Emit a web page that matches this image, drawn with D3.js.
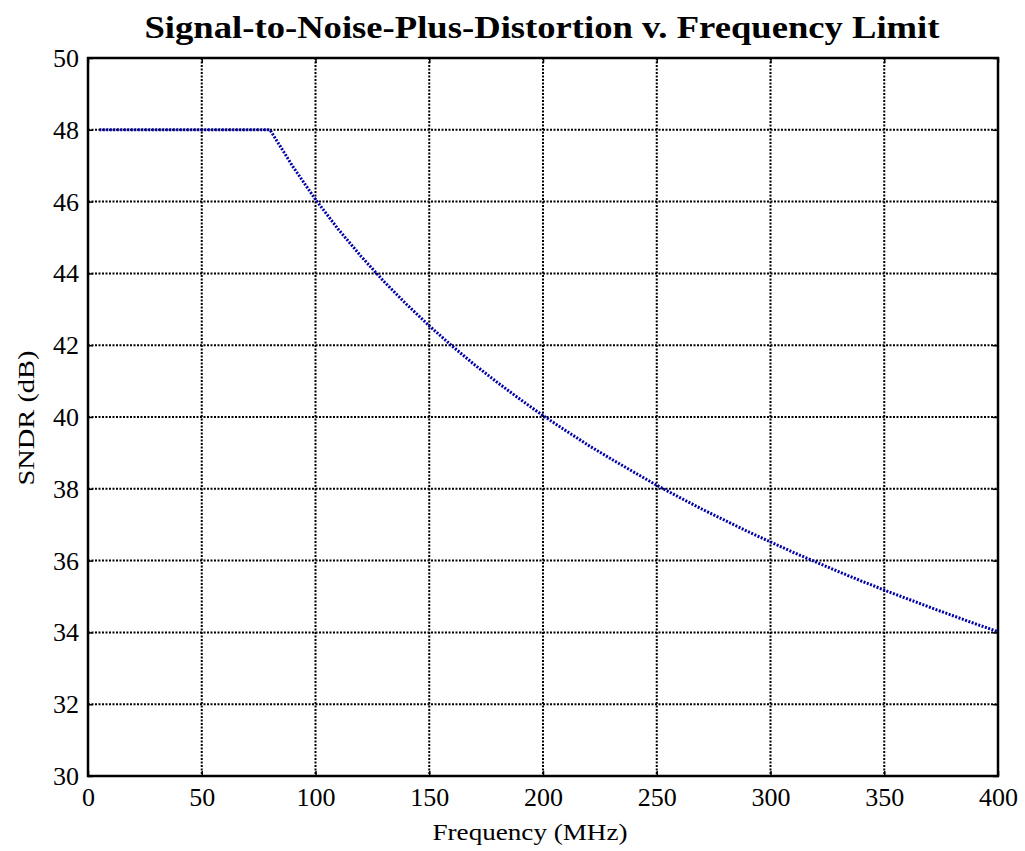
<!DOCTYPE html>
<html>
<head>
<meta charset="utf-8">
<script src="https://cdn.jsdelivr.net/npm/d3@7"></script>
<style>
  body { margin: 0; background: #fff; }
  svg text { font-family: "Liberation Serif", "Times New Roman", serif; }
</style>
</head>
<body>
<div id="vis-container"></div>
<script>
// data
var freqMHz = [5, 80, 90, 100, 110, 120, 130, 140, 150, 160, 170, 180, 190, 200,
               210, 220, 230, 240, 250, 260, 270, 280, 290, 300, 310, 320, 330,
               340, 350, 360, 370, 380, 390, 400]
var sndrDb = [48, 48, 46.98, 46.06, 45.23, 44.48, 43.78, 43.14, 42.54, 41.98, 41.45,
              40.96, 40.49, 40.04, 39.62, 39.21, 38.83, 38.46, 38.10, 37.76, 37.43,
              37.12, 36.81, 36.52, 36.23, 35.96, 35.69, 35.43, 35.18, 34.94, 34.70,
              34.47, 34.24, 34.02]
var xTicks = [0, 50, 100, 150, 200, 250, 300, 350, 400]
var yTicks = [30, 32, 34, 36, 38, 40, 42, 44, 46, 48, 50]

var data = freqMHz.map(function (f, i) { return { f: f, v: sndrDb[i] } })

var W = 1025, H = 851
var margin = { top: 58, right: 27, bottom: 75, left: 88 }
var w = W - margin.left - margin.right
var h = H - margin.top - margin.bottom
var serif = '"Liberation Serif", "Times New Roman", serif'

var svg = d3.select('#vis-container').append('svg')
    .attr('width', W)
    .attr('height', H)

var g = svg.append('g')
    .attr('transform', 'translate(' + margin.left + ',' + margin.top + ')')

var xScale = d3.scaleLinear().domain([0, 400]).range([0, w])
var yScale = d3.scaleLinear().domain([30, 50]).range([h, 0])

// grid
g.selectAll('.vgrid')
    .data(xTicks.slice(1, -1))
    .enter().append('line')
    .attr('x1', function (d) { return xScale(d) })
    .attr('x2', function (d) { return xScale(d) })
    .attr('y1', 0).attr('y2', h)
    .attr('stroke', '#000').attr('stroke-width', 2)
    .attr('stroke-dasharray', '2,1.5')
g.selectAll('.hgrid')
    .data(yTicks.slice(1, -1))
    .enter().append('line')
    .attr('y1', function (d) { return yScale(d) })
    .attr('y2', function (d) { return yScale(d) })
    .attr('x1', 0).attr('x2', w)
    .attr('stroke', '#000').attr('stroke-width', 2)
    .attr('stroke-dasharray', '2,1.5')

// axes with inward ticks
var xAxis = d3.axisBottom(xScale).tickValues(xTicks).tickSizeInner(-5).tickSizeOuter(0).tickPadding(12)
var yAxis = d3.axisLeft(yScale).tickValues(yTicks).tickSizeInner(-5).tickSizeOuter(0).tickPadding(9)

var gx = g.append('g').attr('transform', 'translate(0,' + h + ')').call(xAxis)
var gy = g.append('g').call(yAxis)
g.append('g').call(d3.axisTop(xScale).tickValues(xTicks).tickSizeInner(-5).tickSizeOuter(0).tickFormat(''))
g.append('g').attr('transform', 'translate(' + w + ',0)')
  .call(d3.axisRight(yScale).tickValues(yTicks).tickSizeInner(-5).tickSizeOuter(0).tickFormat(''))

g.selectAll('.domain').attr('stroke', 'none')
g.selectAll('.tick line').attr('stroke', '#000').attr('stroke-width', 1.5)
gx.selectAll('text').style('font-size', '26px').style('font-family', serif).attr('fill', '#000')
gy.selectAll('text').style('font-size', '26px').style('font-family', serif).attr('fill', '#000').attr('dy', '0.33em')

// frame
g.append('rect')
    .attr('x', 0).attr('y', 0).attr('width', w).attr('height', h)
    .attr('fill', 'none').attr('stroke', '#000').attr('stroke-width', 2.5)

// curve
var line = d3.line()
    .x(function (d) { return xScale(d.f) })
    .y(function (d) { return yScale(d.v) })
g.append('path')
    .datum(data)
    .attr('d', line)
    .attr('fill', 'none')
    .attr('stroke', '#0000a8')
    .attr('stroke-width', 3)
    .attr('stroke-dasharray', '2,1.5')

// labels
svg.append('text')
    .text('Signal-to-Noise-Plus-Distortion v. Frequency Limit')
    .attr('x', 542)
    .attr('y', 38)
    .attr('text-anchor', 'middle')
    .attr('textLength', 795)
    .attr('lengthAdjust', 'spacingAndGlyphs')
    .style('font-size', '31px')
    .style('font-weight', 'bold')

svg.append('text')
    .text('Frequency (MHz)')
    .attr('x', 530)
    .attr('y', 840)
    .attr('text-anchor', 'middle')
    .attr('textLength', 195)
    .attr('lengthAdjust', 'spacingAndGlyphs')
    .style('font-size', '24px')

svg.append('text')
    .text('SNDR (dB)')
    .attr('transform', 'translate(34,418) rotate(-90)')
    .attr('text-anchor', 'middle')
    .attr('textLength', 135)
    .attr('lengthAdjust', 'spacingAndGlyphs')
    .style('font-size', '24px')
</script>
</body>
</html>
